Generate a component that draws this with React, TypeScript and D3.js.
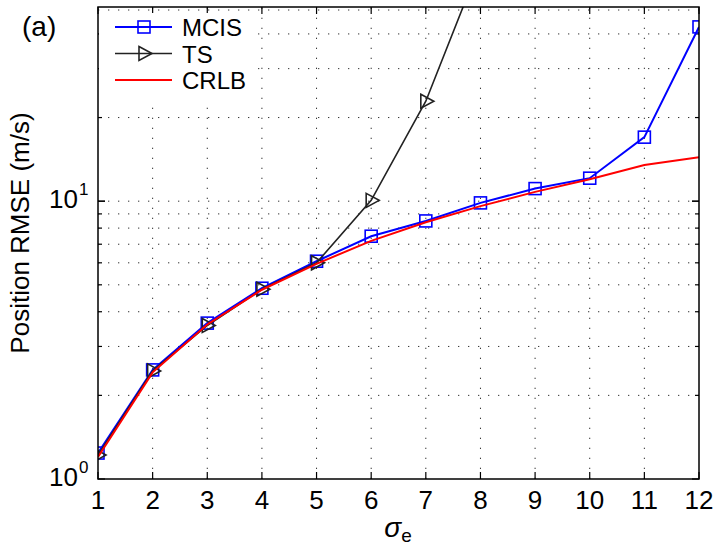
import React, { useRef, useEffect } from "react";
import * as d3 from "d3";

// sigma_e values on the x axis
const sigmaE = [1, 2, 3, 4, 5, 6, 7, 8, 9, 10, 11, 12];
const mcis = [1.24, 2.47, 3.64, 4.86, 6.08, 7.48, 8.49, 9.86, 11.1, 12.1, 17.0, 42.4];
const ts = [1.22, 2.45, 3.57, 4.82, 6.0, 10.07, 22.9, 72];
const crlb = [1.2, 2.42, 3.6, 4.8, 5.95, 7.2, 8.4, 9.6, 10.8, 12.0, 13.5, 14.4];
const xTicks = [1, 2, 3, 4, 5, 6, 7, 8, 9, 10, 11, 12];
const yGrid = [2, 3, 4, 5, 6, 7, 8, 9, 10, 20, 30, 40];
const yMajor = [1, 10];
const legendItems = ["MCIS", "TS", "CRLB"];

const FONT = "'Liberation Sans', Arial, sans-serif";

const App = () => {
  const svgRef = useRef<SVGSVGElement>(null);

  const W = 716;
  const H = 546;
  const margin = { top: 7, right: 17, bottom: 67, left: 98 };
  const width = W - margin.left - margin.right;
  const height = H - margin.top - margin.bottom;

  useEffect(() => {
    const svg = d3.select(svgRef.current);
    svg.selectAll("*").remove();

    const xScale = d3.scaleLinear().domain([1, 12]).range([0, width]);
    const yScale = d3.scaleLog().domain([1, 50]).range([height, 0]);

    svg.append("rect").attr("width", W).attr("height", H).attr("fill", "#fff");

    const chart = svg
      .append("g")
      .attr("transform", `translate(${margin.left},${margin.top})`);

    chart
      .append("clipPath")
      .attr("id", "plotclip")
      .append("rect")
      .attr("width", width)
      .attr("height", height);

    // dotted grid
    const grid = chart.append("g").attr("stroke", "#333").attr("stroke-width", 1).attr("stroke-dasharray", "1.3 8.7");
    xTicks.slice(1, -1).forEach((v) => {
      grid.append("line").attr("x1", xScale(v)).attr("x2", xScale(v)).attr("y1", height).attr("y2", 0);
    });
    yGrid.forEach((v) => {
      grid.append("line").attr("x1", 0).attr("x2", width).attr("y1", yScale(v)).attr("y2", yScale(v));
    });
    grid.append("line").attr("x1", 0).attr("x2", width).attr("y1", 3).attr("y2", 3);

    // ticks (inward)
    const ticks = chart.append("g").attr("stroke", "#000").attr("stroke-width", 1.2);
    xTicks.forEach((v) => {
      ticks.append("line").attr("x1", xScale(v)).attr("x2", xScale(v)).attr("y1", height).attr("y2", height - 7);
      ticks.append("line").attr("x1", xScale(v)).attr("x2", xScale(v)).attr("y1", 0).attr("y2", 7);
    });
    yGrid.concat(yMajor).forEach((v) => {
      const len = yMajor.includes(v) ? 7 : 4;
      ticks.append("line").attr("x1", 0).attr("x2", len).attr("y1", yScale(v)).attr("y2", yScale(v));
      ticks.append("line").attr("x1", width).attr("x2", width - len).attr("y1", yScale(v)).attr("y2", yScale(v));
    });

    // tick labels
    chart
      .append("g")
      .selectAll("text")
      .data(xTicks)
      .enter()
      .append("text")
      .attr("x", (d) => xScale(d))
      .attr("y", height + 30)
      .attr("text-anchor", "middle")
      .style("font-family", FONT)
      .style("font-size", "26px")
      .text((d) => d);

    yMajor.forEach((v) => {
      const exp = Math.round(Math.log10(v));
      chart
        .append("text")
        .attr("x", -20)
        .attr("y", yScale(v) + 7)
        .attr("text-anchor", "end")
        .style("font-family", FONT)
        .style("font-size", "26px")
        .text("10");
      chart
        .append("text")
        .attr("x", -19)
        .attr("y", yScale(v) - 6)
        .style("font-family", FONT)
        .style("font-size", "17px")
        .text(exp);
    });

    // lines
    const plot = chart.append("g").attr("clip-path", "url(#plotclip)");
    const line = d3
      .line<number>()
      .x((d, i) => xScale(sigmaE[i]))
      .y((d) => yScale(d));

    plot.append("path").attr("d", line(mcis)).attr("fill", "none").attr("stroke", "#0000ff").attr("stroke-width", 2);
    plot
      .selectAll(".sq")
      .data(mcis)
      .enter()
      .append("rect")
      .attr("x", (d, i) => xScale(sigmaE[i]) - 6)
      .attr("y", (d) => yScale(d) - 6)
      .attr("width", 12)
      .attr("height", 12)
      .attr("fill", "none")
      .attr("stroke", "#0000ff")
      .attr("stroke-width", 1.6);

    const tri = "M-5,-7L8,0L-5,7Z";
    plot.append("path").attr("d", line(ts)).attr("fill", "none").attr("stroke", "#222").attr("stroke-width", 1.6);
    plot
      .selectAll(".tri")
      .data(ts)
      .enter()
      .append("path")
      .attr("d", tri)
      .attr("transform", (d, i) => `translate(${xScale(sigmaE[i])},${yScale(d)})`)
      .attr("fill", "none")
      .attr("stroke", "#222")
      .attr("stroke-width", 1.6);

    plot.append("path").attr("d", line(crlb)).attr("fill", "none").attr("stroke", "#ff0000").attr("stroke-width", 2);

    // legend
    const legend = chart.append("g");
    legend.append("rect").attr("x", 1).attr("y", 6).attr("width", 156).attr("height", 92).attr("fill", "#fff");
    legendItems.forEach((name, i) => {
      const ly = 20 + i * 26.5;
      const color = ["#0000ff", "#222", "#ff0000"][i];
      legend.append("line").attr("x1", 17).attr("x2", 74).attr("y1", ly).attr("y2", ly).attr("stroke", color).attr("stroke-width", i === 1 ? 1.6 : 2);
      if (i === 0) {
        legend.append("rect").attr("x", 40).attr("y", ly - 6).attr("width", 12).attr("height", 12).attr("fill", "none").attr("stroke", color).attr("stroke-width", 1.6);
      }
      if (i === 1) {
        legend.append("path").attr("d", tri).attr("transform", `translate(46,${ly})`).attr("fill", "none").attr("stroke", color).attr("stroke-width", 1.6);
      }
      legend
        .append("text")
        .attr("x", 84)
        .attr("y", ly + 9)
        .style("font-family", FONT)
        .style("font-size", "24px")
        .text(name);
    });

    // axes box
    chart
      .append("rect")
      .attr("width", width)
      .attr("height", height)
      .attr("fill", "none")
      .attr("stroke", "#000")
      .attr("stroke-width", 1.5);

    // axis labels
    chart
      .append("text")
      .attr("transform", "rotate(-90)")
      .attr("x", -(233 - margin.top))
      .attr("y", 29 - margin.left)
      .attr("text-anchor", "middle")
      .style("font-family", FONT)
      .style("font-size", "26px")
      .text("Position RMSE (m/s)");

    const xl = chart
      .append("text")
      .attr("x", 398 - margin.left)
      .attr("y", height + 58)
      .attr("text-anchor", "middle")
      .style("font-family", FONT)
      .style("font-size", "28px");
    xl.append("tspan").style("font-style", "italic").text("σ");
    xl.append("tspan").attr("dy", 5).style("font-size", "19px").text("e");

    svg
      .append("text")
      .attr("x", 22)
      .attr("y", 36)
      .style("font-family", FONT)
      .style("font-size", "28px")
      .text("(a)");
  }, []);

  return (
    <svg
      ref={svgRef}
      width={W}
      height={H}
      style={{ position: "absolute", left: 0, top: 0 }}
    />
  );
};

export default App;
